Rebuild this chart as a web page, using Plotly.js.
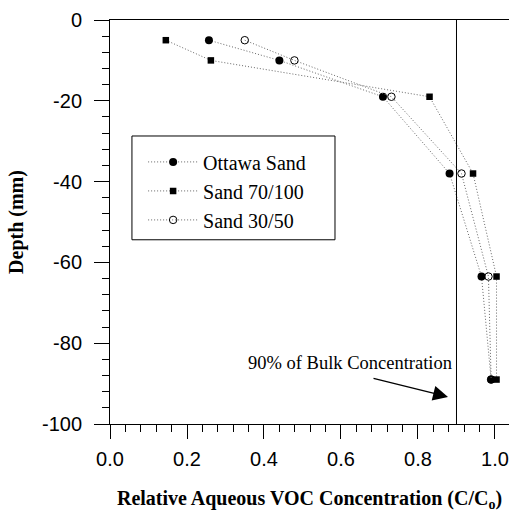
<!DOCTYPE html>
<html>
<head>
<meta charset="utf-8">
<script src="https://cdn.plot.ly/plotly-3.0.1.min.js"></script>
<style>html,body{margin:0;padding:0;background:#fff;}#chart{width:509px;height:512px;}</style>
</head>
<body>
<div id="chart"></div>
<script>
// Depths (mm)
const depth = [-5, -10, -19, -38, -63.5, -89];
// Relative aqueous VOC concentration (C/Co)
const ottawaSand = [0.257, 0.44, 0.709, 0.882, 0.965, 0.99];
const sand70100 = [0.145, 0.262, 0.830, 0.943, 1.004, 1.004];
const sand3050 = [0.35, 0.479, 0.731, 0.913, 0.983, 0.99];
const seriesNames = ["Ottawa Sand", "Sand 70/100", "Sand 30/50"];
const bulkLine = 0.9;
const yTickVals = [0, -20, -40, -60, -80, -100];
const yTickText = ["0", "-20", "-40", "-60", "-80", "-100"];
const xTickVals = [0, 0.2, 0.4, 0.6, 0.8, 1.0];
const xTickText = ["0.0", "0.2", "0.4", "0.6", "0.8", "1.0"];

const lineStyle = {color: '#666', width: 1, dash: '1px,2px'};
const traces = [
  {x: ottawaSand, y: depth, name: seriesNames[0], mode: 'lines+markers', line: lineStyle,
   marker: {symbol: 'circle', size: 8, color: '#000'}},
  {x: sand70100, y: depth, name: seriesNames[1], mode: 'lines+markers', line: lineStyle,
   marker: {symbol: 'square', size: 6.5, color: '#000'}},
  {x: sand3050, y: depth, name: seriesNames[2], mode: 'lines+markers', line: lineStyle,
   marker: {symbol: 'circle-open', size: 7.5, color: '#000', line: {width: 1, color: '#000'}}}
];

const serif = 'Liberation Serif';
const sans = 'Liberation Sans';

const layout = {
  width: 509, height: 512,
  margin: {l: 110, r: 0, t: 20, b: 88},
  paper_bgcolor: '#fff', plot_bgcolor: '#fff',
  showlegend: true,
  legend: {x: 0.083, y: 0.697, xanchor: 'left', yanchor: 'top',
    borderwidth: 0, bgcolor: 'rgba(0,0,0,0)',
    font: {family: serif, size: 20, color: '#000'}, tracegroupgap: 0,
    itemwidth: 50},
  xaxis: {range: [0, 1.0364], tickvals: xTickVals, ticktext: xTickText,
    showgrid: false, zeroline: false, showline: true, linecolor: '#000', linewidth: 1,
    mirror: true, ticks: 'outside', ticklen: 14, tickcolor: '#000',
    minor: {dtick: 0.04, ticks: 'outside', ticklen: 7, tickcolor: '#000', showgrid: false},
    tickfont: {family: sans, size: 20, color: '#000'}, ticklabelstandoff: 3,
    title: {text: '<b>Relative Aqueous VOC Concentration (C/C<sub>o</sub>)</b>', standoff: 26,
      font: {family: serif, size: 20, color: '#000'}}},
  yaxis: {range: [-100, 0], tickvals: yTickVals, ticktext: yTickText,
    showgrid: false, zeroline: false, showline: true, linecolor: '#000', linewidth: 1,
    ticks: 'outside', ticklen: 15, tickcolor: '#000',
    minor: {dtick: 4, ticks: 'outside', ticklen: 7, tickcolor: '#000', showgrid: false},
    tickfont: {family: sans, size: 20, color: '#000'}, ticklabelstandoff: 8,
    title: {text: '<b>Depth (mm)</b>', standoff: 12,
      font: {family: serif, size: 20, color: '#000'}}},
  shapes: [
    {type: 'line', xref: 'x', yref: 'y', x0: bulkLine, x1: bulkLine, y0: -100, y1: 0,
     line: {color: '#000', width: 1}},
    {type: 'rect', xref: 'paper', yref: 'paper', x0: 0.055, x1: 0.5639, y0: 0.456, y1: 0.7129,
     line: {color: '#000', width: 1}, fillcolor: 'rgba(0,0,0,0)', layer: 'below'}
  ],
  annotations: [
    {xref: 'x', yref: 'y', x: 0.623, y: -84.9, text: '90% of Bulk Concentration',
     showarrow: false, font: {family: serif, size: 18.5, color: '#000'}},
    {xref: 'x', yref: 'y', x: 0.878, y: -93.3, text: '', showarrow: true,
     ax: -76, ay: -19, arrowhead: 2, arrowsize: 2.3, arrowwidth: 1.3, arrowcolor: '#000'}
  ]
};

Plotly.newPlot('chart', traces, layout, {staticPlot: true, displayModeBar: false});
</script>
</body>
</html>
